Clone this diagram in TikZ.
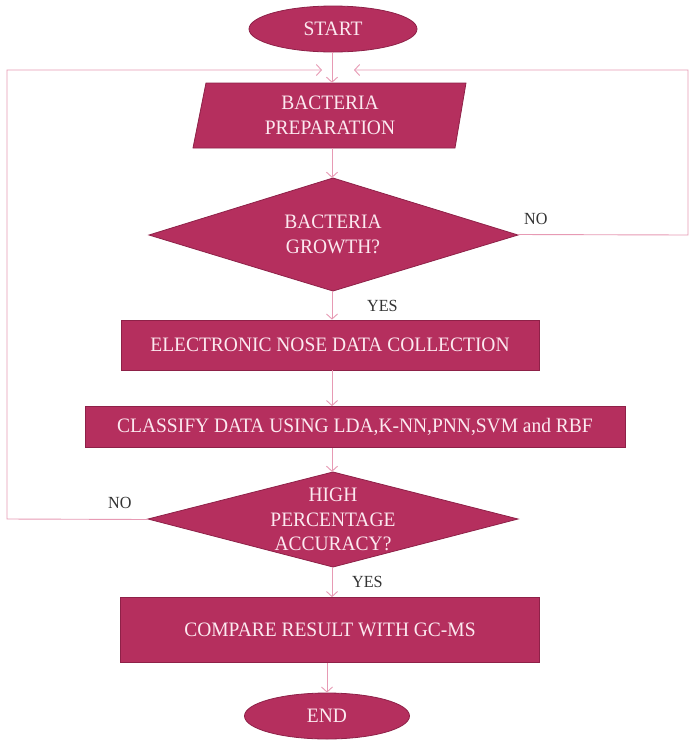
\documentclass[tikz,border=0pt]{standalone}
\usepackage{fontspec}
\setmainfont{Liberation Serif}[FakeStretch=0.95]
\usetikzlibrary{shapes.geometric,arrows.meta}
\definecolor{boxfill}{HTML}{B52F5E}
\definecolor{boxedge}{HTML}{8E2148}
\definecolor{linec}{HTML}{E79AB4}
\definecolor{txtc}{HTML}{FCE9F0}
\definecolor{lblc}{HTML}{333333}
\begin{document}
\begin{tikzpicture}[x=1pt,y=-1pt,
  boxtext/.style={text=txtc,align=center,inner sep=0pt,font=\fontsize{20.5}{24.5}\selectfont},
  shapebox/.style={boxtext,fill=boxfill,draw=boxedge,line width=0.8pt},
  rectbox/.style={shapebox,rectangle},
  ellbox/.style={shapebox,ellipse},
  shapefill/.style={fill=boxfill,draw=boxedge,line width=0.8pt},
  conn/.style={draw=linec,line width=0.9pt,-{Straight Barb[length=5pt,width=11pt]}},
  lbl/.style={text=lblc,font=\fontsize{17}{20}\selectfont,inner sep=0pt}]
\useasboundingbox (0,0) rectangle (689,740);
\fill[white] (0,0) rectangle (689,740);

% nodes
\node[ellbox,minimum width=168,minimum height=46] (start) at (333,29) {START};

\fill[shapefill] (206,83) -- (466,83) -- (455,148) -- (193,148) -- cycle;
\node[boxtext,minimum width=250,minimum height=65] (prep) at (330,115.5) {BACTERIA\\PREPARATION};

\fill[shapefill] (149,235) -- (333,178) -- (518,235) -- (333,291) -- cycle;
\node[boxtext,minimum width=369,minimum height=113] (grow) at (333,234.5) {BACTERIA\\GROWTH?};

\node[rectbox,minimum width=418,minimum height=50] (nose) at (330,345) {ELECTRONIC NOSE DATA COLLECTION};
\node[rectbox,minimum width=540,minimum height=41] (class) at (355,427) {CLASSIFY DATA USING LDA,K-NN,PNN,SVM and RBF};

\fill[shapefill] (148,519) -- (333,472) -- (518,519) -- (333,567) -- cycle;
\node[boxtext,minimum width=370,minimum height=95] (acc) at (333,519.5) {HIGH\\PERCENTAGE\\ACCURACY?};

\node[rectbox,minimum width=419,minimum height=65] (comp) at (330,630) {COMPARE RESULT WITH GC-MS};
\node[ellbox,minimum width=165,minimum height=46] (end) at (327,716) {END};

% loop coordinates
\coordinate (tl) at (7,70);
\coordinate (tr) at (688,70);
\coordinate (la) at (322,70);
\coordinate (ra) at (354,70);
\coordinate (bl) at (7,519);
\coordinate (br) at (688,235);

% connectors
\draw[conn] (start.south -| 332,0) -- (prep.north -| 332,0);
\draw[conn] (prep.south -| 332,0) -- (grow.north -| 332,0);
\draw[conn] (grow.south -| 332,0) -- (nose.north -| 332,0);
\draw[conn] (nose.south -| 332,0) -- (class.north -| 332,0);
\draw[conn] (class.south -| 332,0) -- (acc.north -| 332,0);
\draw[conn] (acc.south -| 332,0) -- (comp.north -| 332,0);
\draw[conn] (comp.south -| end.north) -- (end.north);
\draw[conn] (grow.east) -- (br) -- (tr) -- (ra);
\draw[conn] (acc.west) -- (bl) -- (tl) -- (la);

% labels
\node[lbl,anchor=west] (no1) at (524,219) {NO};
\node[lbl,anchor=west] (yes1) at (367,306) {YES};
\node[lbl,anchor=west] (no2) at (108,503) {NO};
\node[lbl,anchor=west] (yes2) at (352,582) {YES};
\end{tikzpicture}
\end{document}
